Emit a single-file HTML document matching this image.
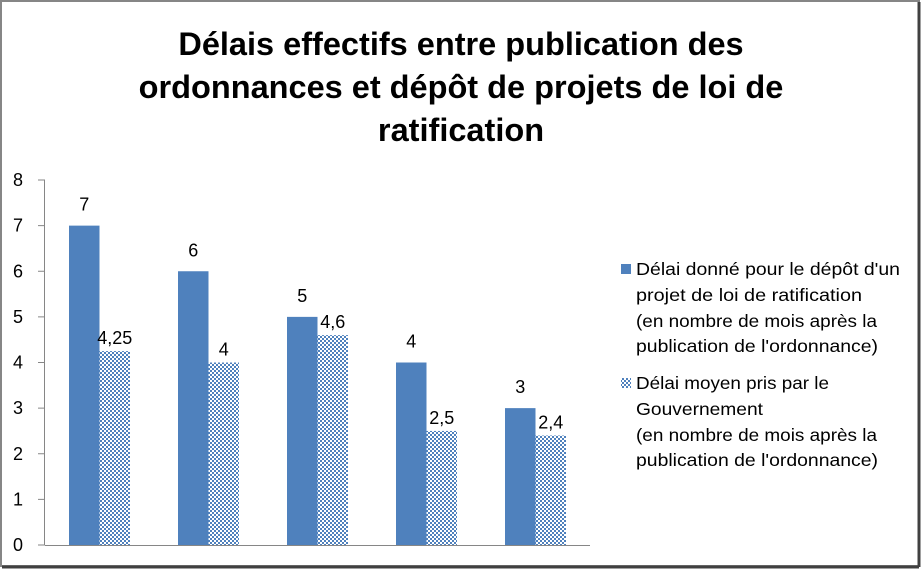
<!DOCTYPE html>
<html><head><meta charset="utf-8"><style>
body{margin:0;background:#fff;}
#wrap{position:relative;width:922px;height:569px;overflow:hidden;font-family:"Liberation Sans",sans-serif;}
</style></head><body>
<div id="wrap">
<svg id="chart" width="922" height="569" style="position:absolute;left:0;top:0">
<defs>
<pattern id="hatch" width="4" height="4" patternUnits="userSpaceOnUse">
<rect width="4" height="4" fill="#fff"/>
<rect x="0" y="0" width="2" height="2" fill="#4f81bd"/>
<rect x="2" y="2" width="2" height="2" fill="#4f81bd"/>
</pattern>
</defs>
<rect x="1" y="1" width="918" height="565" fill="#fff" stroke="#868686" stroke-width="2"/>
<line x1="919" y1="2" x2="919" y2="567" stroke="#404040" stroke-width="3"/>
<line x1="2" y1="567" x2="919" y2="567" stroke="#404040" stroke-width="3"/>
<g font-weight="bold" font-size="32.5" text-anchor="middle" fill="#000">
<text x="461" y="55">Délais effectifs entre publication des</text>
<text x="461" y="98">ordonnances et dépôt de projets de loi de</text>
<text x="461" y="141">ratification</text>
</g>
<g id="axis"></g>
<g id="bars"></g>
<g font-size="17.5" fill="#000">
<rect x="621" y="264" width="10" height="10" fill="#4f81bd"/>
<g>
<text x="636" y="275" textLength="264" lengthAdjust="spacingAndGlyphs">Délai donné pour le dépôt d'un</text>
<text x="636" y="301" textLength="226" lengthAdjust="spacingAndGlyphs">projet de loi de ratification</text>
<text x="636" y="327" textLength="241" lengthAdjust="spacingAndGlyphs">(en nombre de mois après la</text>
<text x="636" y="352" textLength="242" lengthAdjust="spacingAndGlyphs">publication de l'ordonnance)</text>
</g>
<rect x="621" y="378" width="10" height="10" fill="url(#hatch)"/>
<g>
<text x="636" y="389" textLength="193" lengthAdjust="spacingAndGlyphs">Délai moyen pris par le</text>
<text x="636" y="415" textLength="127" lengthAdjust="spacingAndGlyphs">Gouvernement</text>
<text x="636" y="441" textLength="241" lengthAdjust="spacingAndGlyphs">(en nombre de mois après la</text>
<text x="636" y="466" textLength="242" lengthAdjust="spacingAndGlyphs">publication de l'ordonnance)</text>
</g>
</g>
</svg>
</div>
<script>
const categories = ["Ordonnance 1","Ordonnance 2","Ordonnance 3","Ordonnance 4","Ordonnance 5"];
const delaiDonne = [7, 6, 5, 4, 3];
const delaiMoyen = [4.25, 4, 4.6, 2.5, 2.4];
const delaiMoyenLabels = ["4,25","4","4,6","2,5","2,4"];
const yTicks = [0,1,2,3,4,5,6,7,8];

const NS = "http://www.w3.org/2000/svg";
const x0 = 45, plotW = 545, y0 = 545, yMax = 8, plotH = 365;
const yScale = v => y0 - v / yMax * plotH;
const groupW = plotW / categories.length;
const barW = 30.5;
const xGroup = i => x0 + i * groupW;
function mk(tag, attrs, parent){const e=document.createElementNS(NS,tag);for(const k in attrs)e.setAttribute(k,attrs[k]);parent.appendChild(e);return e;}

const axis = document.getElementById('axis');
const yl = mk('line',{x1:x0-0.5,y1:yScale(yMax),x2:x0-0.5,y2:y0,stroke:'#868686','stroke-width':1},axis);


yTicks.forEach(t=>{
  const y=yScale(t);
  const tk=mk('line',{x1:x0-7,y1:y,x2:x0,y2:y,stroke:'#868686'},axis);
  
  
  const tx=mk('text',{x:23,y:y+6,'font-size':18,'text-anchor':'end',fill:'#000'},axis);
  tx.textContent=t;
  
  
});
const bars = document.getElementById('bars');
categories.forEach((c,i)=>{
  const bx = xGroup(i) + (groupW - 2*barW)/2;
  const b1 = mk('rect',{x:bx,y:yScale(delaiDonne[i]),width:barW,height:y0-yScale(delaiDonne[i]),fill:'#4f81bd'},bars);
  
  
  const b2 = mk('rect',{x:bx+barW,y:yScale(delaiMoyen[i]),width:barW,height:y0-yScale(delaiMoyen[i]),fill:'url(#hatch)'},bars);
  
  
  const l1 = mk('text',{x:bx+barW/2,y:yScale(delaiDonne[i])-15,'font-size':18,'text-anchor':'middle',fill:'#000'},bars);
  l1.textContent = delaiDonne[i];
  
  
  const l2 = mk('text',{x:bx+barW*1.5,y:yScale(delaiMoyen[i])-7,'font-size':18,'text-anchor':'middle',fill:'#000'},bars);
  l2.textContent = delaiMoyenLabels[i];
  
  
});
const xl = mk('line',{x1:x0,y1:y0+0.5,x2:x0+plotW,y2:y0+0.5,stroke:'#868686'},bars);


</script>
</body></html>
